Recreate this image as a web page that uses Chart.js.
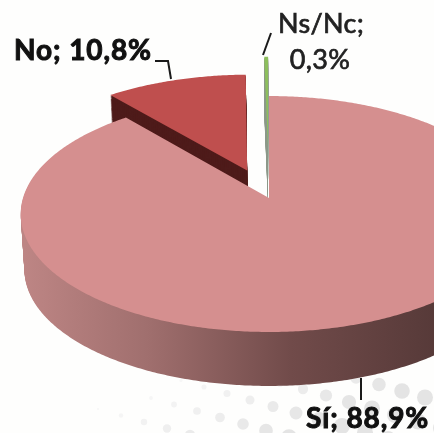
<!DOCTYPE html>
<html><head><meta charset="utf-8">
<style>html,body{margin:0;padding:0;background:#fefefd;overflow:hidden}#w{width:434px;height:433px}</style>
<script src="https://cdn.jsdelivr.net/npm/chart.js@4"></script></head>
<body><div id="w"><canvas id="c" width="434" height="433"></canvas></div>
<script>
const categories = ['Sí', 'No', 'Ns/Nc'];
const values = [88.9, 10.8, 0.3];
const valueLabels = ['88,9%', '10,8%', '0,3%'];
const topColors = ['#d58f8f', '#bf4f4e', '#8dbf5c'];
const wallColors = [null, '#4e1b1a', '#8f9a8c'];
const explode = [0, 46, 81];

// perspective of the tilted disc
const X0 = 269, Y0 = 198, AX = 246, AY = 115.8, K = 0.1356, DEPTH = 56, SHRINK = 0.985;
function proj(u, v, t) {
  const w = 1 - K * v, s = 1 - (1 - SHRINK) * t;
  return [X0 + s * AX * u / w, Y0 + t * DEPTH + s * AY * v / w];
}
function slicePath(ctx, arc, t) {
  const R = arc.outerRadius, off = (arc.options.offset || 0) / R;
  const a0 = arc.startAngle, a1 = arc.endAngle, mid = (a0 + a1) / 2;
  const du = off * Math.cos(mid), dv = off * Math.sin(mid);
  ctx.beginPath();
  let p = proj(du, dv, t); ctx.moveTo(p[0], p[1]);
  const n = Math.max(2, Math.ceil((a1 - a0) / 0.01));
  for (let i = 0; i <= n; i++) {
    const a = a0 + (a1 - a0) * i / n;
    p = proj(du + Math.cos(a), dv + Math.sin(a), t);
    ctx.lineTo(p[0], p[1]);
  }
  ctx.closePath();
}
const pie3d = {
  id: 'pie3d',
  beforeDatasetDraw(chart, args) {
    const ctx = chart.ctx, arcs = args.meta.data;
    ctx.save();
    const g = ctx.createLinearGradient(25, 0, 434, 0);
    g.addColorStop(0, '#bd8584'); g.addColorStop(0.3, '#a06f6e');
    g.addColorStop(0.65, '#714b4a'); g.addColorStop(1, '#573a39');
    // back to front: Ns/Nc, No, Sí
    [2, 1, 0].forEach(i => {
      const arc = arcs[i];
      ctx.fillStyle = wallColors[i] || g;
      for (let d = DEPTH; d > 0; d -= 1) {
        slicePath(ctx, arc, d / DEPTH); ctx.fill();
      }
      ctx.fillStyle = topColors[i];
      slicePath(ctx, arc, 0); ctx.fill();
    });
    ctx.restore();
    return false;
  },
  afterDraw(chart) {
    const ctx = chart.ctx;
    ctx.save();
    ctx.strokeStyle = '#1a1a1a'; ctx.lineWidth = 2;
    [[[155,61],[168,61],[171,79]], [[271,33],[263,55]], [[361,378],[361,400]]].forEach(l => {
      ctx.beginPath(); l.forEach((p, i) => i ? ctx.lineTo(p[0], p[1]) : ctx.moveTo(p[0], p[1])); ctx.stroke();
    });
    ctx.fillStyle = '#111'; ctx.strokeStyle = '#111'; ctx.lineWidth = 1;
    ctx.textBaseline = 'alphabetic'; ctx.textAlign = 'left';
    ctx.font = 'bold 28px Lato'; ctx.letterSpacing = '0.9px';
    [[categories[1] + '; ' + valueLabels[1], 14, 60], [categories[0] + '; ' + valueLabels[0], 306, 428]].forEach(t => {
      ctx.fillText(t[0], t[1], t[2]); ctx.strokeText(t[0], t[1], t[2]);
    });
    ctx.font = '27px Lato'; ctx.letterSpacing = '0.3px'; ctx.textAlign = 'center'; ctx.fillStyle = '#222';
    ctx.strokeStyle = '#222'; ctx.lineWidth = 0.7;
    [[categories[2] + ';', 321, 33], [valueLabels[2], 320, 69]].forEach(t => {
      ctx.fillText(t[0], t[1], t[2]); ctx.strokeText(t[0], t[1], t[2]);
    });
    ctx.restore();
  },
  beforeDraw(chart) {
    const ctx = chart.ctx;
    ctx.save();
    ctx.fillStyle = '#fefefd'; ctx.fillRect(0, 0, 434, 433);
    // faint halftone backdrop, lower right
    for (let i = -8; i < 10; i++) {
      for (let j = -2; j < 3; j++) {
        const x = 250 + i * 23 - j * 7, y = 400 + i * 6.5 + j * 24;
        const r = ((x - 120) + (y - 380) * 2.5) / 40;
        if (r < 1 || y < 340 || y > 445) continue;
        const shade = Math.round(Math.max(228, 252 - r * 3.2));
        ctx.fillStyle = 'rgb(' + shade + ',' + shade + ',' + shade + ')';
        ctx.beginPath(); ctx.arc(x, y, Math.min(8, r), 0, Math.PI * 2); ctx.fill();
      }
    }
    ctx.restore();
  }
};
new Chart(document.getElementById('c'), {
  type: 'pie',
  data: { labels: categories, datasets: [{ data: values, backgroundColor: topColors, offset: explode, borderWidth: 0 }] },
  options: {
    responsive: false, animation: false,
    plugins: { legend: { display: false }, tooltip: { enabled: false } }
  },
  plugins: [pie3d]
});
</script></body></html>
